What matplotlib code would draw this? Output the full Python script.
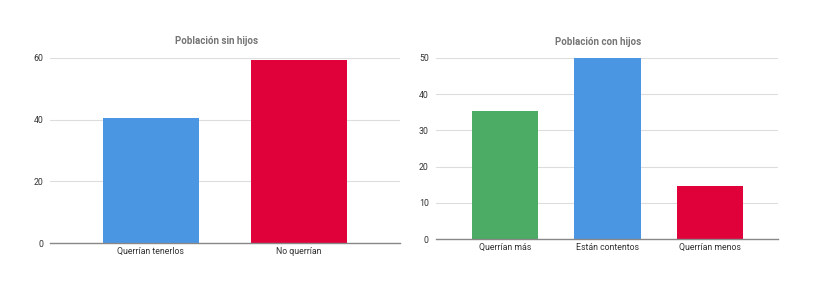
import matplotlib.pyplot as plt

# datos
cats_sin = ['Querrían tenerlos', 'No querrían']
vals_sin = [40.5, 59.4]
cols_sin = ['#4A96E3', '#E0003A']

cats_con = ['Querrían más', 'Están contentos', 'Querrían menos']
vals_con = [35.4, 50.0, 14.6]
cols_con = ['#4CAB65', '#4A96E3', '#E0003A']

plt.rcParams['font.family'] = ['Roboto', 'DejaVu Sans']

fig = plt.figure(figsize=(8.35, 2.87), dpi=100)
fig.patch.set_facecolor('white')


def style(ax, ticks, ymax):
    ax.set_ylim(0, ymax)
    ax.set_yticks(ticks)
    ax.grid(axis='y', color='#dddddd', linewidth=0.8)
    ax.set_axisbelow(True)
    for s in ['top', 'right', 'left']:
        ax.spines[s].set_visible(False)
    ax.spines['bottom'].set_color('#888888')
    ax.spines['bottom'].set_linewidth(1.0)
    ax.tick_params(axis='both', length=0, labelsize=6.3, colors='#333333')
    ax.tick_params(axis='y', pad=5)
    ax.tick_params(axis='x', pad=3)


ax1 = fig.add_axes([0.0599, 0.1533, 0.4191, 0.6447])
ax1.bar(range(len(cats_sin)), vals_sin, width=0.65, color=cols_sin)
ax1.set_xticks(range(len(cats_sin)))
ax1.set_xticklabels(cats_sin)
ax1.set_xlim(-0.682, 1.683)
style(ax1, [0, 20, 40, 60], 60)

ax2 = fig.add_axes([0.5218, 0.1672, 0.4099, 0.6308])
ax2.bar(range(len(cats_con)), vals_con, width=0.645, color=cols_con)
ax2.set_xticks(range(len(cats_con)))
ax2.set_xticklabels(cats_con)
ax2.set_xlim(-0.676, 2.663)
style(ax2, [0, 10, 20, 30, 40, 50], 50)

fig.text(217 / 835, 1 - 41 / 287, 'Población sin hijos', ha='center', va='center',
         fontsize=7, fontweight='bold', color='#757575')
fig.text(598 / 835, 1 - 42 / 287, 'Población con hijos', ha='center', va='center',
         fontsize=7, fontweight='bold', color='#757575')

fig.savefig('out.png', dpi=100)
